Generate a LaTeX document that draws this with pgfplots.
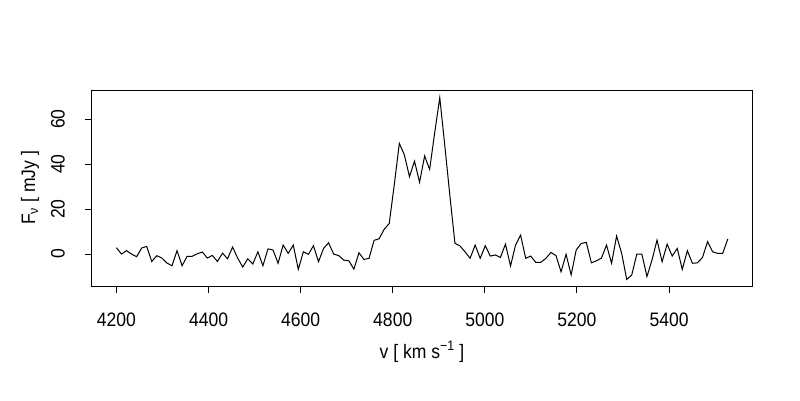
\documentclass[border=0pt]{standalone}
\usepackage{fontspec}
\setmainfont{Liberation Sans}[FakeStretch=0.9]
\usepackage{pgfplots}
\pgfplotsset{compat=1.18}
\pgfplotstableread{
v F
4200.0 2.8
4211.0 0
4221.9 1.5
4232.9 0
4243.9 -1.2
4254.9 2.7
4265.8 3.4
4276.8 -3.3
4287.8 -0.7
4298.7 -1.8
4309.7 -4
4320.7 -5.2
4331.6 1.5
4342.6 -5.2
4353.6 -1
4364.6 -1
4375.5 0.1
4386.5 0.9
4397.5 -1.8
4408.4 -0.6
4419.4 -3.3
4430.4 0.4
4441.3 -2.1
4452.3 3.1
4463.3 -1.8
4474.3 -5.8
4485.2 -2.1
4496.2 -4.4
4507.2 1
4518.1 -5.2
4529.1 2.3
4540.1 1.8
4551.0 -4.1
4562.0 4
4573.0 0.3
4584.0 4
4594.9 -6.8
4605.9 1
4616.9 -0.1
4627.8 3.7
4638.8 -3.4
4649.8 2.5
4660.7 5
4671.7 0
4682.7 -0.7
4693.7 -2.7
4704.6 -3
4715.6 -6.7
4726.6 0.6
4737.5 -2.4
4748.5 -1.9
4759.5 6.1
4770.4 6.8
4781.4 11
4792.4 13.6
4803.4 31
4814.3 49.2
4825.3 44
4836.3 34.4
4847.2 41.3
4858.2 31.9
4869.2 43.6
4880.1 37.6
4891.1 54
4902.1 69.5
4913.1 48
4924.0 26
4935.0 4.8
4946.0 3.6
4956.9 1.0
4967.9 -1.9
4978.9 4
4989.8 -1.9
5000.8 3.7
5011.8 -0.9
5022.8 -0.4
5033.7 -1.5
5044.7 4.4
5055.7 -5.3
5066.6 4
5077.6 8.4
5088.6 -1.9
5099.5 -0.9
5110.5 -3.7
5121.5 -3.7
5132.5 -1.9
5143.4 0.7
5154.4 -0.7
5165.4 -7.9
5176.3 -0.1
5187.3 -9.3
5198.3 1.8
5209.2 4.7
5220.2 5.2
5231.2 -3.9
5242.2 -3
5253.1 -1.8
5264.1 4
5275.1 -4.1
5286.0 8
5297.0 0.3
5308.0 -11.3
5318.9 -9.3
5329.9 0
5340.9 0
5351.9 -10
5362.8 -2.7
5373.8 6.2
5384.8 -3.4
5395.7 4.4
5406.7 -0.9
5417.7 2.5
5428.6 -6.8
5439.6 1.5
5450.6 -4.1
5461.6 -3.9
5472.5 -1.5
5483.5 5.5
5494.5 1
5505.4 0.3
5516.4 0.3
5527.4 6.7
}\spectrum
\begin{document}
\begin{tikzpicture}
\fill[white] (0,0) rectangle (800pt,400pt);
\useasboundingbox (0,0) rectangle (800pt,400pt);
\begin{axis}[
  at={(92pt,114pt)}, anchor=south west,
  scale only axis, width=660pt, height=196pt,
  xmin=4147, xmax=5580, ymin=-14.2, ymax=72.9,
  xtick={4200,4400,4600,4800,5000,5200,5400},
  ytick={0,20,40,60},
  tick align=outside, major tick length=7pt,
  xtick pos=bottom, ytick pos=left,
  axis line style={line width=1pt, black},
  every tick/.style={line width=1pt, black},
  scaled ticks=false,
  /pgf/number format/1000 sep={},
  /pgf/number format/assume math mode=true,
  tick label style={font=\fontsize{19.5}{22}\selectfont},
  label style={font=\fontsize{19.5}{22}\selectfont},
  xticklabel style={anchor=center, yshift=-27pt},
  yticklabel style={xshift=-27pt, rotate=90, anchor=center},
  xlabel={v [ km s\textsuperscript{−1} ]},
  ylabel={F\textsubscript{ν} [ mJy ]},
  xlabel style={at={(axis description cs:0.5,-0.337)}, anchor=center},
  ylabel style={at={(axis description cs:-0.094,0.5)}, anchor=center},
]
\addplot[black, line width=1pt, sharp plot, no marks] table[x=v, y=F] {\spectrum};
\end{axis}
\end{tikzpicture}
\end{document}
